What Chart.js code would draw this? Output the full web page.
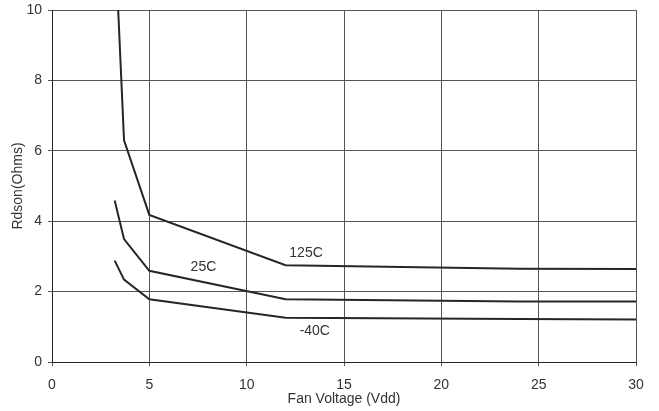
<!DOCTYPE html>
<html>
<head>
<meta charset="utf-8">
<script src="https://cdn.jsdelivr.net/npm/chart.js@4"></script>
<style>
    html, body { margin: 0; padding: 0; background: #fff; }
    #wrap { width: 659px; height: 411px; }
</style>
</head>
<body>
<div id="wrap"><canvas id="chart" width="659" height="411"></canvas></div>
<script>
(function() {
    // Rdson vs fan voltage
    const hotVdd = [3.4, 3.7, 5, 12, 24, 30];
    const hotOhms = [10, 6.3, 4.18, 2.75, 2.65, 2.64];

    const roomVdd = [3.22, 3.7, 5, 12, 24, 30];
    const roomOhms = [4.59, 3.49, 2.59, 1.78, 1.72, 1.72];

    const coldVdd = [3.22, 3.7, 5, 12, 24, 30];
    const coldOhms = [2.88, 2.34, 1.78, 1.26, 1.22, 1.21];

    const curveNames = ['125C', '25C', '-40C'];
    const labelVdd = [13.05, 7.78, 13.5];
    const labelOhms = [3.08, 2.70, 0.89];

    const font = 'Liberation Sans, Arial, sans-serif';

    function points(xs, ys) {
        return xs.map((x, i) => ({ x: x, y: ys[i] }));
    }

    function makeSet(name, xs, ys) {
        return {
            label: name,
            data: points(xs, ys),
            borderColor: '#262626',
            borderWidth: 2,
            pointRadius: 0,
            showLine: true,
            fill: false,
            tension: 0,
        };
    }

    const curveLabels = {
        id: 'curveLabels',
        afterDatasetsDraw(chart) {
            const ctx = chart.ctx;
            const xs = chart.scales.x;
            const ys = chart.scales.y;
            ctx.save();
            ctx.font = '14px ' + font;
            ctx.fillStyle = '#333';
            ctx.textAlign = 'center';
            ctx.textBaseline = 'middle';
            curveNames.forEach((name, i) => {
                ctx.fillText(name, xs.getPixelForValue(labelVdd[i]), ys.getPixelForValue(labelOhms[i]));
            });
            ctx.restore();
        },
    };

    new Chart(document.getElementById('chart'), {
        type: 'scatter',
        data: {
            datasets: [
                makeSet('125C', hotVdd, hotOhms),
                makeSet('25C', roomVdd, roomOhms),
                makeSet('-40C', coldVdd, coldOhms),
            ],
        },
        options: {
            responsive: false,
            animation: false,
            layout: {
                padding: { left: 0, right: 23, top: 10, bottom: 0 },
            },
            plugins: {
                legend: { display: false },
                tooltip: { enabled: false },
            },
            scales: {
                x: {
                    type: 'linear',
                    min: 0,
                    max: 30,
                    afterFit(scale) {
                        scale.height = 49;
                        scale.paddingLeft = 0;
                        scale.paddingRight = 0;
                    },
                    ticks: {
                        stepSize: 5,
                        padding: 11,
                        color: '#333',
                        font: { family: font, size: 14 },
                        maxRotation: 0,
                    },
                    grid: {
                        color: '#555',
                        lineWidth: 1,
                        tickLength: 4,
                    },
                    border: { color: '#222', width: 1 },
                    title: {
                        display: true,
                        text: 'Fan Voltage (Vdd)',
                        color: '#333',
                        font: { family: font, size: 14 },
                        padding: { top: 0, bottom: 3.5 },
                    },
                },
                y: {
                    type: 'linear',
                    min: 0,
                    max: 10,
                    afterFit(scale) {
                        scale.width = 52;
                        scale.paddingTop = 0;
                        scale.paddingBottom = 0;
                    },
                    ticks: {
                        stepSize: 2,
                        padding: 6,
                        color: '#333',
                        font: { family: font, size: 14 },
                    },
                    grid: {
                        color: '#555',
                        lineWidth: 1,
                        tickLength: 4,
                    },
                    border: { color: '#222', width: 1 },
                    title: {
                        display: true,
                        text: 'Rdson(Ohms)',
                        color: '#333',
                        font: { family: font, size: 14 },
                        padding: { top: 10, bottom: 0 },
                    },
                },
            },
        },
        plugins: [curveLabels],
    });
})();
</script>
</body>
</html>
